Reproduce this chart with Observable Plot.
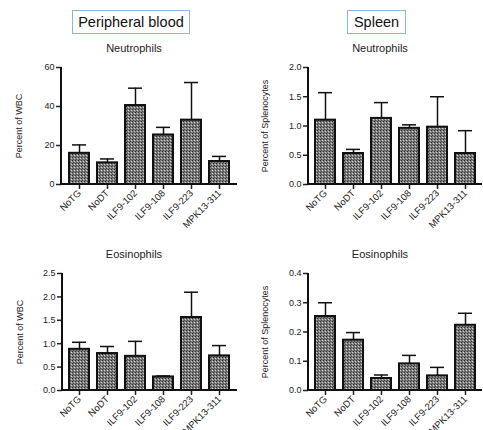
<!DOCTYPE html>
<html>
<head>
<meta charset="utf-8">
<script src="https://cdn.jsdelivr.net/npm/d3@7"></script>
<script src="https://cdn.jsdelivr.net/npm/@observablehq/plot@0.6"></script>
<style>
  html, body { margin: 0; padding: 0; background: #fff; }
  #root { position: relative; width: 483px; height: 430px; overflow: hidden; font-family: "Liberation Sans", Arial, sans-serif; color: #222; }
  .box { position: absolute; border: 1px solid #8fb3e0; box-sizing: border-box; display: flex; align-items: center; justify-content: center; font-size: 14.5px; color: #111; background: #fff; }
  .sub { position: absolute; font-size: 11px; transform: translate(-50%, -50%); white-space: nowrap; color: #222; }
  .panel { position: absolute; }
</style>
</head>
<body>
<div id="root">
  <svg width="0" height="0" style="position:absolute">
    <defs>
      <pattern id="chk" width="3" height="3" patternUnits="userSpaceOnUse">
        <rect width="3" height="3" fill="#7c7c7c"></rect>
        <rect x="0" y="0" width="1" height="1" fill="#303030"></rect>
        <rect x="2" y="1" width="1" height="1" fill="#cfcfcf"></rect>
        <rect x="1" y="2" width="1" height="1" fill="#4a4a4a"></rect>
      </pattern>
    </defs>
  </svg>
  <div class="box" style="left:72px;top:10px;width:118px;height:24px;">Peripheral blood</div>
  <div class="box" style="left:347px;top:10px;width:59px;height:24px;">Spleen</div>
  <div class="sub" style="left:134px;top:47.5px;">Neutrophils</div>
  <div class="sub" style="left:380px;top:47.5px;">Neutrophils</div>
  <div class="sub" style="left:134px;top:254px;">Eosinophils</div>
  <div class="sub" style="left:380px;top:254px;">Eosinophils</div>
</div>
<script>
const groups = ["NoTG", "NoDT", "ILF9-102", "ILF9-108", "ILF9-223", "MPK13-311"];

const pbNeuMean = [16.0, 11.1, 40.5, 25.4, 33.0, 11.8];
const pbNeuErr  = [20.3, 13.1, 49.4, 29.3, 52.3, 14.4];

const spNeuMean = [1.10, 0.53, 1.13, 0.96, 0.98, 0.53];
const spNeuErr  = [1.57, 0.60, 1.40, 1.02, 1.50, 0.92];

const pbEosMean = [0.88, 0.79, 0.73, 0.29, 1.56, 0.74];
const pbEosErr  = [1.03, 0.94, 1.05, 0.31, 2.10, 0.96];

const spEosMean = [0.253, 0.172, 0.041, 0.091, 0.050, 0.223];
const spEosErr  = [0.300, 0.198, 0.053, 0.120, 0.079, 0.264];

const pbNeuTicks = [0, 20, 40, 60];
const spNeuTicks = [0, 0.5, 1.0, 1.5, 2.0];
const pbEosTicks = [0, 0.5, 1.0, 1.5, 2.0, 2.5];
const spEosTicks = [0, 0.1, 0.2, 0.3, 0.4];

const yLabelWBC = "Percent of WBC";
const yLabelSpl = "Percent of Splenocytes";

function table(mean, err) {
  return groups.map((g, i) => ({group: g, mean: mean[i], err: err[i]}));
}

function axisLines(index, scales, values, dim) {
  const g = d3.create("svg:g").attr("stroke", "#111").attr("stroke-width", 2).attr("fill", "none");
  const x0 = dim.marginLeft, x1 = dim.width - dim.marginRight;
  const y0 = dim.marginTop, y1 = dim.height - dim.marginBottom;
  g.append("line").attr("x1", x0).attr("x2", x0).attr("y1", y0).attr("y2", y1 + 1);
  g.append("line").attr("x1", x0 - 1).attr("x2", x1).attr("y1", y1).attr("y2", y1);
  return g.node();
}

function panel({mean, err, ticks, fmt, label, labelOffset, left, top, width, height, margins, inset}) {
  const data = table(mean, err);
  const chart = Plot.plot({
    width, height,
    marginLeft: margins[0], marginRight: margins[1], marginTop: margins[2], marginBottom: margins[3],
    style: {fontFamily: "Liberation Sans, Arial, sans-serif", color: "#222", background: "transparent", overflow: "visible"},
    x: {domain: groups, paddingInner: 0.3, paddingOuter: 0.15, insetLeft: inset[0], insetRight: inset[1]},
    y: {domain: [ticks[0], ticks[ticks.length - 1]]},
    marks: [
      Plot.ruleX(data, {x: "group", y1: "mean", y2: "err", stroke: "#111", strokeWidth: 1.5}),
      Plot.tickY(data, {x: "group", y: "err", stroke: "#111", strokeWidth: 1.5, insetLeft: 3, insetRight: 3}),
      Plot.barY(data, {x: "group", y: "mean", fill: "url(#chk)", stroke: "#111", strokeWidth: 2}),
      Plot.axisY({ticks, tickFormat: fmt, tickSize: 5, tickPadding: 2, fontSize: 9, strokeWidth: 1.5,
        label, labelAnchor: "center", labelOffset, labelArrow: "none"}),
      Plot.axisX({tickRotate: -45, tickSize: 5, tickPadding: 2, fontSize: 9.5, strokeWidth: 1.5, label: null}),
      axisLines
    ]
  });
  chart.classList.add("panel");
  chart.style.left = left + "px";
  chart.style.top = top + "px";
  chart.style.position = "absolute";
  document.getElementById("root").appendChild(chart);
}

panel({mean: pbNeuMean, err: pbNeuErr, ticks: pbNeuTicks, fmt: d3.format("d"), label: yLabelWBC, labelOffset: 46,
  left: 0, top: 55, width: 242, height: 180, margins: [61, 5, 12, 51], inset: [2, 3]});
panel({mean: spNeuMean, err: spNeuErr, ticks: spNeuTicks, fmt: d3.format(".1f"), label: yLabelSpl, labelOffset: 47,
  left: 245, top: 55, width: 238, height: 180, margins: [63, 1, 12, 51], inset: [0.5, 0]});
panel({mean: pbEosMean, err: pbEosErr, ticks: pbEosTicks, fmt: d3.format(".1f"), label: yLabelWBC, labelOffset: 46,
  left: 0, top: 261, width: 242, height: 169, margins: [62, 5, 12, 40], inset: [1, 3]});
panel({mean: spEosMean, err: spEosErr, ticks: spEosTicks, fmt: d3.format(".1f"), label: yLabelSpl, labelOffset: 47,
  left: 245, top: 261, width: 238, height: 169, margins: [63, 1, 12, 40], inset: [0.5, 0]});
</script>
</body>
</html>
